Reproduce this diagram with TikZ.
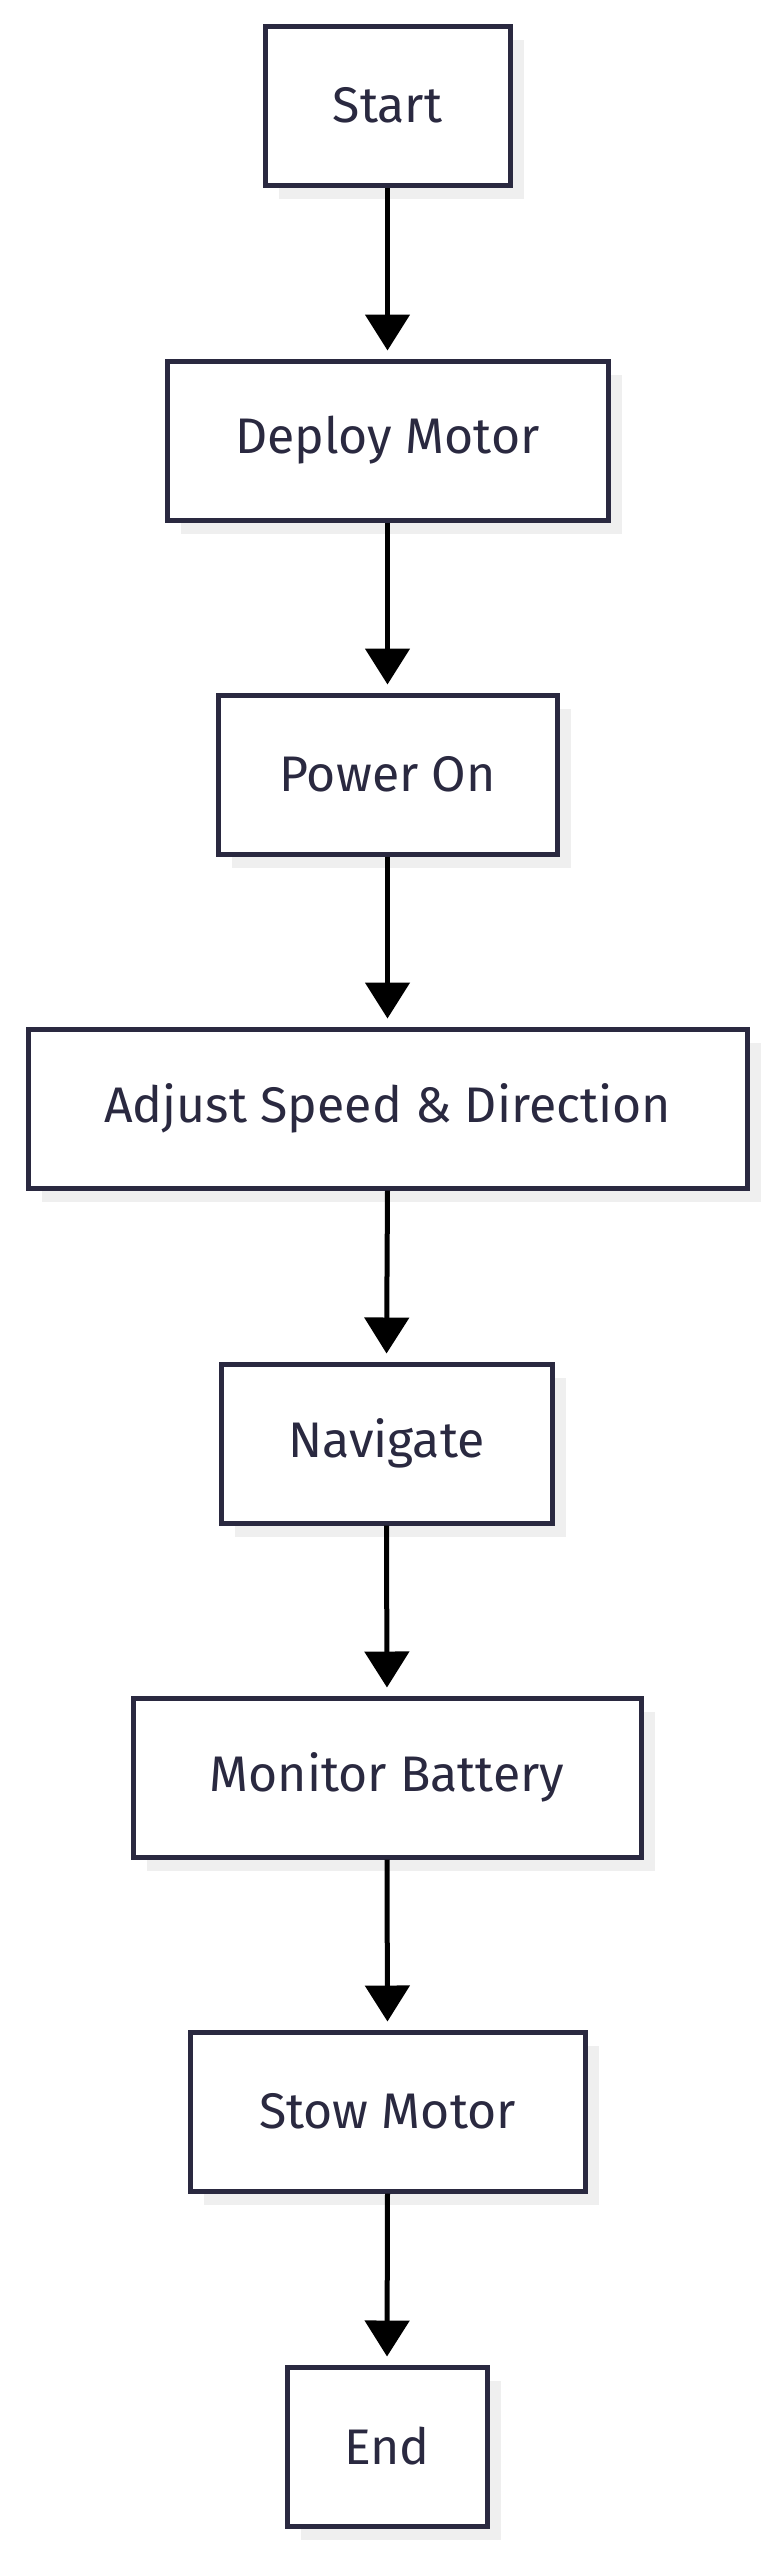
\documentclass[tikz,border=0pt]{standalone}
\usepackage{fontspec}
\setmainfont{Fira Sans}
\usetikzlibrary{arrows.meta}
\definecolor{ink}{HTML}{2A2940}
\definecolor{shadowgray}{HTML}{EFEFEF}
\tikzset{
  stepbox/.style={draw=ink, line width=5pt, fill=white, text=ink, font=\fontsize{50}{54}\selectfont,
    minimum height=159pt, inner sep=0pt, anchor=center},
  flow/.style={line width=5pt, -{Triangle[width=44pt,length=36pt]}, shorten >=8pt}
}
\begin{document}
\begin{tikzpicture}[x=1pt,y=-1pt]
\useasboundingbox (0,0) rectangle (777,2560);
\foreach \n/\t/\xa/\xb/\ya in {s/Start/265/510/26, d/Deploy Motor/167/608/361, p/Power On/218/557/695,
  a/Adjust Speed \& Direction/28/747/1029, n/Navigate/221/552/1364, m/Monitor Battery/133/641/1698,
  w/Stow Motor/190/585/2032, e/End/287/487/2367}{
  \fill[shadowgray] (\xa+14,\ya+14) rectangle (\xb+14,\ya+159+14);
  \node[stepbox, minimum width=\xb-\xa] (\n) at ({(\xa+\xb)/2},\ya+79.5) {\t};
}
\foreach \u/\v in {s/d,d/p,p/a,a/n,n/m,m/w,w/e}
  \draw[flow] (\u.south) -- (\v.north);
\end{tikzpicture}
\end{document}
